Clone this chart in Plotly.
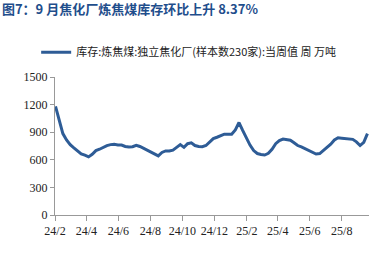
import pandas as pd
import plotly.graph_objects as go

dates = pd.date_range("2024-02-02", periods=86, freq="7D")
values = [1180, 1040, 885, 815, 765, 730, 693, 665, 650, 632,
          660, 700, 715, 735, 755, 765, 768, 762, 760, 745,
          738, 742, 758, 745, 725, 712, 690, 665, 643, 680,
          696, 696, 705, 735, 765, 735, 775, 785, 755, 745,
          742, 755, 795, 830, 845, 865, 878, 878, 877, 925,
          1005, 920, 830, 760, 700, 668, 658, 652, 670, 715,
          775, 808, 825, 820, 812, 785, 755, 740, 722, 700,
          680, 663, 668, 700, 735, 770, 815, 840, 835, 830,
          826, 822, 795, 755, 790, 885]
series_name = "库存:炼焦煤:独立焦化厂(样本数230家):当周值 周 万吨"
title_text = "图7：9 月焦化厂炼焦煤库存环比上升 8.37%"
tick_vals = ["2024-02-01", "2024-04-01", "2024-06-01", "2024-08-01", "2024-10-01",
             "2024-12-01", "2025-02-01", "2025-04-01", "2025-06-01", "2025-08-01"]
tick_text = ["24/2", "24/4", "24/6", "24/8", "24/10", "24/12", "25/2", "25/4", "25/6", "25/8"]

fig = go.Figure()
fig.add_trace(go.Scatter(x=dates, y=values, mode="lines", name=series_name,
                         line=dict(color="#2E5C96", width=3)))

fig.update_layout(
    width=384, height=259,
    margin=dict(l=55, r=15, t=77, b=44),
    paper_bgcolor="white", plot_bgcolor="white",
    showlegend=True,
    legend=dict(orientation="h", x=-0.06, xanchor="left", y=1.18, yanchor="middle",
                font=dict(family="Noto Sans CJK SC", size=11, color="#222"),
                bgcolor="rgba(0,0,0,0)", itemwidth=30),
    title=dict(text="<b>" + title_text + "</b>", xref="container", yref="container",
               x=0.005, xanchor="left", y=1 - 9 / 259, yanchor="middle",
               font=dict(family="Noto Sans CJK SC", size=13, color="#1F4E8C")),
    xaxis=dict(type="date", range=["2024-02-01", "2025-09-22"],
               tickvals=tick_vals, ticktext=tick_text,
               showline=True, linecolor="#999", linewidth=1,
               ticks="outside", tickcolor="#999", ticklen=5,
               showgrid=False, zeroline=False,
               tickfont=dict(family="Liberation Serif", size=12, color="#222")),
    yaxis=dict(range=[0, 1500], tickvals=[0, 300, 600, 900, 1200, 1500],
               showline=True, linecolor="#999", linewidth=1,
               ticks="outside", tickcolor="#999", ticklen=4,
               showgrid=False, zeroline=False,
               tickfont=dict(family="Liberation Serif", size=12, color="#222")),
)

fig.write_html("out.html")
